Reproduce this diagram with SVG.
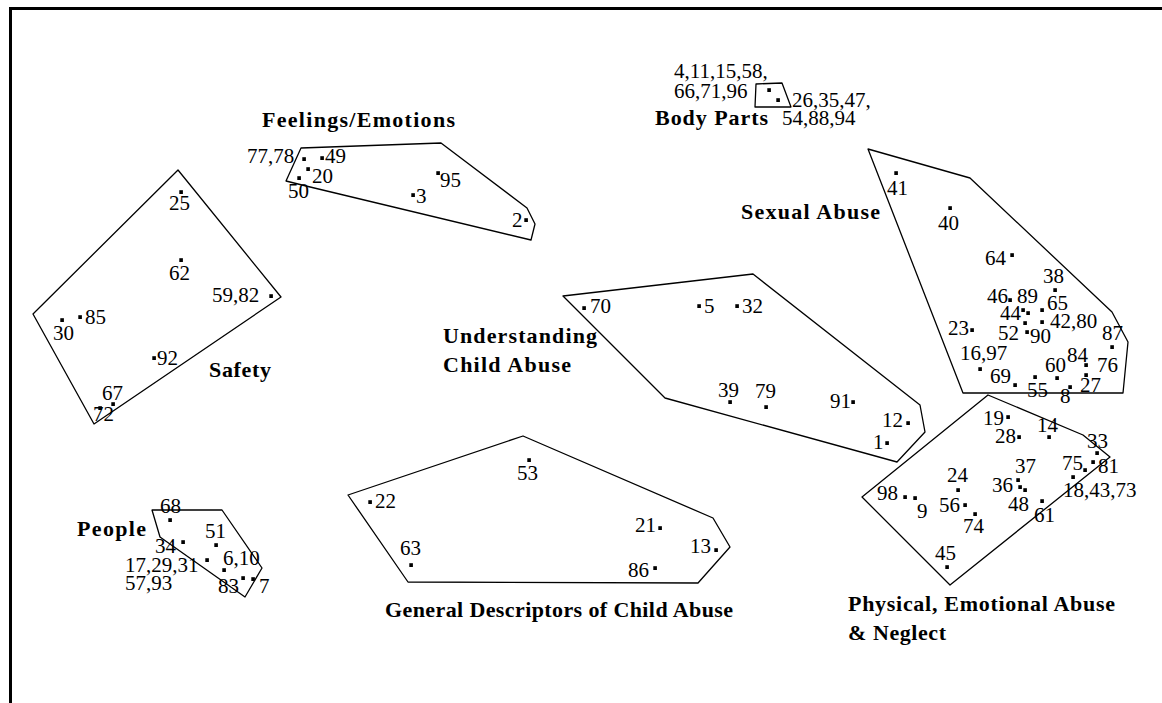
<svg xmlns="http://www.w3.org/2000/svg" width="1162" height="703" viewBox="0 0 1162 703">
<style>
.hull{fill:none;stroke:#000;stroke-width:1.3;stroke-linejoin:round}
.n{font-family:"Liberation Serif","Times New Roman",serif;font-size:21px;fill:#000}
.t{font-family:"Liberation Serif","Times New Roman",serif;font-size:22px;font-weight:bold;fill:#000}
.frame{stroke:#000;stroke-width:3;fill:none}
</style>
<defs>
<rect id="d" x="-1.7" y="-1.8" width="3.6" height="3.8" fill="#000"/>
</defs>
<rect width="1162" height="703" fill="#fff"/>
<path class="frame" d="M10.5,703 V8.5 H1162"/>
<g id="connectors"/>

<g id="body-parts">
<polygon class="hull" points="756,84 782,83 791,107 755,107"/>
<use href="#d" x="769" y="90"/><use href="#d" x="778" y="100"/>
<text class="n" x="674" y="78">4,11,15,58,</text>
<text class="n" x="674" y="98">66,71,96</text>
<text class="n" x="792" y="107">26,35,47,</text>
<text class="n" x="782" y="125">54,88,94</text>
<text class="t" x="655" y="125" textLength="113">Body Parts</text>
</g>

<g id="feelings">
<text class="t" x="262" y="127" textLength="193">Feelings/Emotions</text>
<polygon class="hull" points="301,148 441,143 527,208 535,224 531,240 306,186 286,181"/>
<use href="#d" x="304" y="159"/><use href="#d" x="322" y="158"/><use href="#d" x="308" y="169"/><use href="#d" x="299" y="178"/>
<use href="#d" x="413" y="195"/><use href="#d" x="438" y="173"/><use href="#d" x="526" y="220"/>
<text class="n" x="247" y="163">77,78</text>
<text class="n" x="325" y="163">49</text>
<text class="n" x="312" y="183">20</text>
<text class="n" x="288" y="198">50</text>
<text class="n" x="416" y="203">3</text>
<text class="n" x="440" y="187">95</text>
<text class="n" x="512" y="227">2</text>
</g>

<g id="safety">
<polygon class="hull" points="178,170 281,297 94,424 33,314"/>
<use href="#d" x="181" y="192"/><use href="#d" x="181" y="260"/><use href="#d" x="271" y="296"/>
<use href="#d" x="62" y="320"/><use href="#d" x="80" y="317"/><use href="#d" x="154" y="358"/>
<use href="#d" x="100" y="408"/><use href="#d" x="113" y="404"/>
<text class="n" x="169" y="210">25</text>
<text class="n" x="169" y="280">62</text>
<text class="n" x="212" y="302">59,82</text>
<text class="n" x="53" y="340">30</text>
<text class="n" x="85" y="324">85</text>
<text class="n" x="157" y="365">92</text>
<text class="n" x="102" y="400">67</text>
<text class="n" x="93" y="421">72</text>
<text class="t" x="209" y="377" textLength="62">Safety</text>
</g>

<g id="understanding">
<text class="t" x="443" y="343" textLength="154">Understanding</text>
<text class="t" x="443" y="372" textLength="128">Child Abuse</text>
<polygon class="hull" points="563,296 753,274 920,405 925,432 897,462 665,398"/>
<use href="#d" x="584" y="308"/><use href="#d" x="699" y="306"/><use href="#d" x="737" y="306"/>
<use href="#d" x="730" y="402"/><use href="#d" x="766" y="407"/><use href="#d" x="853" y="402"/>
<use href="#d" x="908" y="423"/><use href="#d" x="887" y="443"/>
<text class="n" x="590" y="313">70</text>
<text class="n" x="704" y="313">5</text>
<text class="n" x="742" y="313">32</text>
<text class="n" x="718" y="397">39</text>
<text class="n" x="755" y="398">79</text>
<text class="n" x="830" y="408">91</text>
<text class="n" x="882" y="427">12</text>
<text class="n" x="873" y="449">1</text>
</g>

<g id="sexual-abuse">
<text class="t" x="741" y="219" textLength="139">Sexual Abuse</text>
<polygon class="hull" points="868,149 970,178 1112,312 1128,342 1123,393 963,393"/>
<use href="#d" x="896" y="173"/><use href="#d" x="950" y="208"/><use href="#d" x="1012" y="255"/><use href="#d" x="1055" y="290"/>
<use href="#d" x="1010" y="300"/><use href="#d" x="1042" y="310"/><use href="#d" x="1023" y="310"/><use href="#d" x="1028" y="313"/>
<use href="#d" x="1042" y="322"/><use href="#d" x="972" y="330"/><use href="#d" x="1025" y="323"/><use href="#d" x="1027" y="332"/>
<use href="#d" x="1112" y="347"/><use href="#d" x="980" y="369"/><use href="#d" x="1086" y="365"/><use href="#d" x="1086" y="375"/>
<use href="#d" x="1057" y="378"/><use href="#d" x="1015" y="385"/><use href="#d" x="1035" y="377"/><use href="#d" x="1070" y="387"/>
<text class="n" x="887" y="195">41</text>
<text class="n" x="938" y="230">40</text>
<text class="n" x="985" y="265">64</text>
<text class="n" x="1043" y="283">38</text>
<text class="n" x="987" y="303">46</text>
<text class="n" x="1017" y="303">89</text>
<text class="n" x="1047" y="310">65</text>
<text class="n" x="1000" y="320">44</text>
<text class="n" x="1050" y="328">42,80</text>
<text class="n" x="948" y="335">23</text>
<text class="n" x="998" y="340">52</text>
<text class="n" x="1030" y="343">90</text>
<text class="n" x="1102" y="340">87</text>
<text class="n" x="960" y="360">16,97</text>
<text class="n" x="1067" y="362">84</text>
<text class="n" x="1097" y="372">76</text>
<text class="n" x="1045" y="372">60</text>
<text class="n" x="990" y="383">69</text>
<text class="n" x="1027" y="397">55</text>
<text class="n" x="1080" y="392">27</text>
<text class="n" x="1060" y="403">8</text>
</g>

<g id="physical">
<polygon class="hull" points="988,395 1083,435 1110,457 950,585 862,497"/>
<use href="#d" x="1008" y="417"/><use href="#d" x="1049" y="437"/><use href="#d" x="1019" y="437"/><use href="#d" x="1097" y="453"/>
<use href="#d" x="1085" y="470"/><use href="#d" x="1093" y="462"/><use href="#d" x="958" y="490"/>
<use href="#d" x="1018" y="480"/><use href="#d" x="1020" y="487"/><use href="#d" x="1025" y="490"/><use href="#d" x="1073" y="477"/>
<use href="#d" x="905" y="497"/><use href="#d" x="915" y="498"/><use href="#d" x="965" y="505"/><use href="#d" x="1042" y="501"/>
<use href="#d" x="975" y="514"/><use href="#d" x="947" y="567"/>
<text class="n" x="983" y="425">19</text>
<text class="n" x="1037" y="432">14</text>
<text class="n" x="995" y="443">28</text>
<text class="n" x="1087" y="448">33</text>
<text class="n" x="1062" y="470">75</text>
<text class="n" x="1098" y="473">81</text>
<text class="n" x="1015" y="473">37</text>
<text class="n" x="947" y="482">24</text>
<text class="n" x="992" y="492">36</text>
<text class="n" x="1063" y="497">18,43,73</text>
<text class="n" x="877" y="500">98</text>
<text class="n" x="917" y="518">9</text>
<text class="n" x="939" y="512">56</text>
<text class="n" x="1008" y="511">48</text>
<text class="n" x="1034" y="522">61</text>
<text class="n" x="963" y="533">74</text>
<text class="n" x="935" y="560">45</text>
<text class="t" x="848" y="611" textLength="267">Physical, Emotional Abuse</text>
<text class="t" x="848" y="640" textLength="98">&amp; Neglect</text>
</g>

<g id="people">
<text class="t" x="77" y="536" textLength="69">People</text>
<polygon class="hull" points="152,510 222,510 262,568 245,597 160,537"/>
<use href="#d" x="170" y="520"/><use href="#d" x="216" y="545"/><use href="#d" x="183" y="542"/>
<use href="#d" x="207" y="560"/><use href="#d" x="224" y="570"/><use href="#d" x="243" y="578"/><use href="#d" x="253" y="579"/>
<text class="n" x="160" y="513">68</text>
<text class="n" x="205" y="538">51</text>
<text class="n" x="155" y="553">34</text>
<text class="n" x="125" y="572">17,29,31</text>
<text class="n" x="223" y="565">6,10</text>
<text class="n" x="125" y="590">57,93</text>
<text class="n" x="218" y="593">83</text>
<text class="n" x="259" y="593">7</text>
</g>

<g id="general">
<polygon class="hull" points="348,495 523,436 713,518 730,547 698,583 408,582"/>
<use href="#d" x="529" y="460"/><use href="#d" x="370" y="502"/><use href="#d" x="660" y="528"/>
<use href="#d" x="716" y="550"/><use href="#d" x="411" y="565"/><use href="#d" x="655" y="568"/>
<text class="n" x="517" y="480">53</text>
<text class="n" x="375" y="508">22</text>
<text class="n" x="635" y="532">21</text>
<text class="n" x="690" y="553">13</text>
<text class="n" x="400" y="555">63</text>
<text class="n" x="628" y="577">86</text>
<text class="t" x="385" y="617" textLength="348">General Descriptors of Child Abuse</text>
</g>
</svg>
